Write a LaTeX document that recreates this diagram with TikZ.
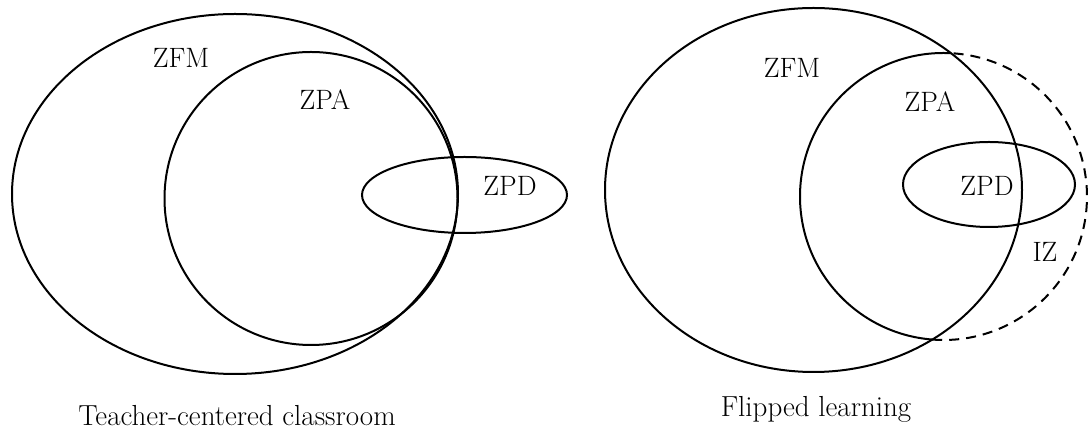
\documentclass[tikz,border=0pt]{standalone}
\usepackage{tikz}
\begin{document}
\begin{tikzpicture}[x=1pt,y=1pt,
  setline/.style={line width=2pt},
  izline/.style={line width=2pt, dash pattern=on 10pt off 7pt},
  lbl/.style={inner sep=0pt, font=\fontsize{28}{33}\selectfont},
  captext/.style={inner sep=0pt, anchor=base, font=\fontsize{29}{34}\selectfont}]
\useasboundingbox (0,0) rectangle (1088,430);
% ---- left: teacher-centered classroom ----
\draw[setline] (235,236) ellipse [x radius=223pt, y radius=180pt];
\draw[setline] (311,231.5) circle [radius=146.5pt];
\draw[setline] (464.5,235) ellipse [x radius=102.5pt, y radius=38pt];
\node[lbl] (zfmL) at (181,372) {ZFM};
\node[lbl] (zpaL) at (325,330) {ZPA};
\node[lbl] (zpdL) at (510,244) {ZPD};
\node[captext] (capL) at (237,4.5) {Teacher-centered classroom};
% ---- right: flipped learning ----
\draw[setline] (813.5,240) ellipse [x radius=208.5pt, y radius=182pt];
\draw[setline] ([shift={(87:143.5pt)}]943.5,233.5) arc [start angle=87, end angle=265.5, radius=143.5pt];
\draw[izline] ([shift={(-94.5:143.5pt)}]943.5,233.5) arc [start angle=-94.5, end angle=87, radius=143.5pt];
\draw[setline] (989,245.5) ellipse [x radius=86pt, y radius=42.5pt];
\node[lbl] (zfmR) at (792,362) {ZFM};
\node[lbl] (zpaR) at (930,328) {ZPA};
\node[lbl] (zpdR) at (987,244) {ZPD};
\node[lbl] (izR) at (1045,178) {IZ};
\node[captext] (capR) at (816,13) {Flipped learning};
\end{tikzpicture}
\end{document}
